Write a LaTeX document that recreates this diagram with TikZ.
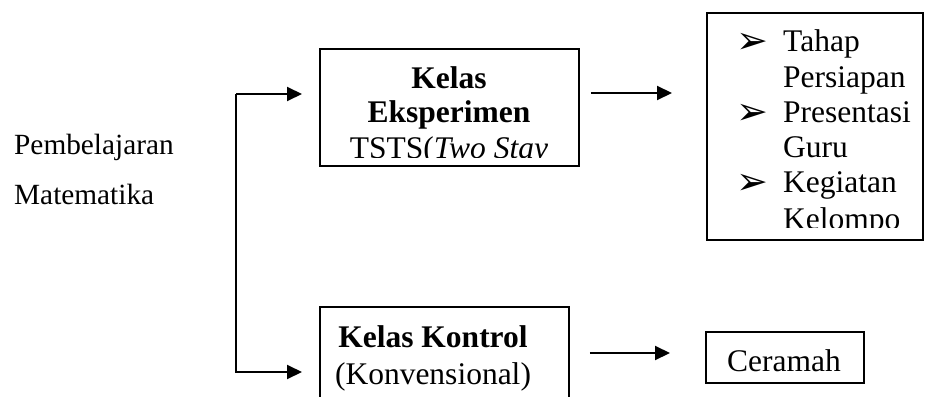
\documentclass[tikz,border=0pt]{standalone}
\usepackage{fontspec}
\setmainfont{Liberation Serif}
\newfontfamily\dejavu{DejaVu Sans}
\usetikzlibrary{arrows.meta}
\begin{document}
\begin{tikzpicture}[x=1pt,y=-1pt,
  box/.style={draw, line width=1.8pt, inner sep=0pt, anchor=north west},
  arr/.style={line width=2pt, -{Triangle[length=15pt,width=14pt]}},
  big/.style={font=\fontsize{31.5}{33}\selectfont, inner sep=0pt},
  side/.style={font=\fontsize{29.3}{33}\selectfont, inner sep=0pt, anchor=base west},
  bul/.style={font=\dejavu\fontsize{38}{38}\selectfont, inner sep=0pt, anchor=base west},
]
\clip (0,0) rectangle (925,396);
\fill[white] (0,0) rectangle (925,396);

% boxes
\node[box, minimum width=259pt, minimum height=117pt] (eks) at (319,48) {};
\node[box, minimum width=216pt, minimum height=227pt] (list) at (706,12) {};
\node[box, minimum width=249pt, minimum height=120pt] (kon) at (319,306) {};
\node[box, minimum width=158pt, minimum height=51pt] (cer) at (705,331) {};

% left text
\node[side] (p1) at (14,154) {Pembelajaran};
\node[side] (p2) at (14,204) {Matematika};

% experiment box text
\begin{scope}
\clip (321,50) rectangle (576,157);
\node[big, anchor=base] (e1) at (449,88) {\textbf{Kelas}};
\node[big, anchor=base] (e2) at (449,122) {\textbf{Eksperimen}};
\node[big, anchor=base] (e3) at (449,158) {TSTS(\textit{Two Stay}};
\end{scope}

% list box text
\begin{scope}
\clip (708,14) rectangle (920,227);
\node[bul] (b1) at (736,54) {➢};
\node[big, anchor=base west] (l1) at (783,52) {Tahap};
\node[big, anchor=base west] (l2) at (783,87) {Persiapan};
\node[bul] (b2) at (736,124) {➢};
\node[big, anchor=base west] (l3) at (783,122) {Presentasi};
\node[big, anchor=base west] (l4) at (783,157) {Guru};
\node[bul] (b3) at (736,194) {➢};
\node[big, anchor=base west] (l5) at (783,192) {Kegiatan};
\node[big, anchor=base west] (l6) at (783,229) {Kelompo};
\end{scope}

% control box text
\node[big, anchor=base] (k1) at (433,347) {\textbf{Kelas Kontrol}};
\node[big, anchor=base] (k2) at (433,384) {(Konvensional)};

% ceramah
\node[big, anchor=base] (c1) at (784,371) {Ceramah};

% connectors
\coordinate (sp) at (236,94);
\coordinate (sq) at (236,372);
\coordinate (r1) at (0,93);
\coordinate (r2) at (0,353);
\draw[arr, shorten >=17pt] (sp) -- (eks.west |- sp);
\draw[arr, shorten >=17pt] (sp) |- (kon.west |- sq);
\draw[arr, shorten <=11pt, shorten >=34pt] (eks.east |- r1) -- (list.west |- r1);
\draw[arr, shorten <=20pt, shorten >=35pt] (kon.east |- r2) -- (cer.west |- r2);
\end{tikzpicture}
\end{document}
